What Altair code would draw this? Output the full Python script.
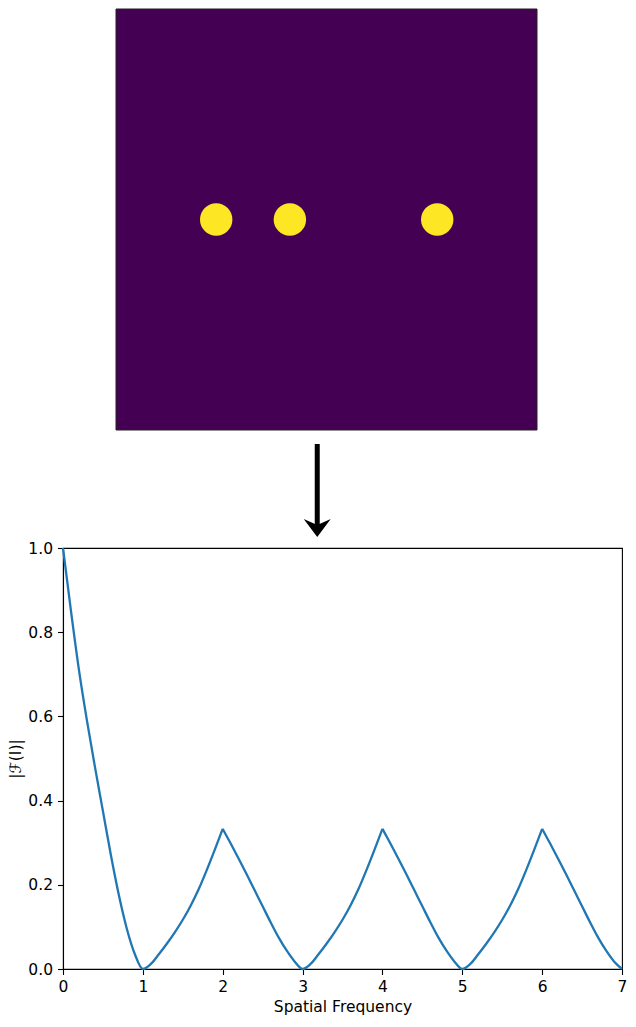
import altair as alt
import pandas as pd

# ---------------- data ----------------
# Top panel: image drawn in image coordinates (fraction of the image side, y down)
image_x0 = [0.0]
image_x1 = [1.0]
image_y0 = [0.0]
image_y1 = [1.0]

spot_x = [0.238, 0.413, 0.763]
spot_y = [0.5, 0.5, 0.5]

# arrow (same image coordinates, below the image)
arrow_x = [0.478]
arrow_y_start = [1.0333]
arrow_y_end = [1.2257]
arrow_head_y = [1.2221]

# Bottom panel: |F(I)| vs spatial frequency
freq = [0.0, 0.1, 0.2, 0.3, 0.4, 0.5, 0.6, 0.7, 0.8, 0.9,
        1.0, 1.1, 1.2, 1.3, 1.4, 1.5, 1.6, 1.7, 1.8, 1.9,
        2.0, 2.1, 2.2, 2.3, 2.4, 2.5, 2.6, 2.7, 2.8, 2.9,
        3.0, 3.1, 3.2, 3.3, 3.4, 3.5, 3.6, 3.7, 3.8, 3.9,
        4.0, 4.1, 4.2, 4.3, 4.4, 4.5, 4.6, 4.7, 4.8, 4.9,
        5.0, 5.1, 5.2, 5.3, 5.4, 5.5, 5.6, 5.7, 5.8, 5.9,
        6.0, 6.1, 6.2, 6.3, 6.4, 6.5, 6.6, 6.7, 6.8, 6.9,
        7.0]
magnitude = [1.000, 0.850, 0.710, 0.590, 0.480, 0.375, 0.270, 0.175, 0.095, 0.035,
             0.000, 0.012, 0.035, 0.060, 0.087, 0.117, 0.151, 0.190, 0.235, 0.283,
             0.333, 0.298, 0.262, 0.225, 0.187, 0.149, 0.111, 0.075, 0.044, 0.018,
             0.000, 0.012, 0.035, 0.060, 0.087, 0.117, 0.151, 0.190, 0.235, 0.283,
             0.333, 0.298, 0.262, 0.225, 0.187, 0.149, 0.111, 0.075, 0.044, 0.018,
             0.000, 0.012, 0.035, 0.060, 0.087, 0.117, 0.151, 0.190, 0.235, 0.283,
             0.333, 0.298, 0.262, 0.225, 0.187, 0.149, 0.111, 0.075, 0.044, 0.018,
             0.000]
# frequencies where the curve has sharp peaks (the line is split there)
peak_freq = [2.0, 4.0, 6.0]

x_ticks = [0, 1, 2, 3, 4, 5, 6, 7]
y_ticks = [0.0, 0.2, 0.4, 0.6, 0.8, 1.0]

FONT = "DejaVu Sans"
FS = 15.5
W = 559
IMG = 421.0
IMG_OFF = 53.0

# ---------------- top panel ----------------
TOP_H = 531
xs_top = alt.Scale(domain=[-IMG_OFF / IMG, (W - IMG_OFF) / IMG], nice=False, zero=False)
ys_top = alt.Scale(domain=[0, TOP_H / IMG], nice=False, zero=False, reverse=True)

img_df = pd.DataFrame({"x0": image_x0, "x1": image_x1, "y0": image_y0, "y1": image_y1})
spot_df = pd.DataFrame({"x": spot_x, "y": spot_y})
arrow_df = pd.DataFrame({"x": arrow_x, "y0": arrow_y_start, "y1": arrow_y_end, "yh": arrow_head_y})

background = alt.Chart(img_df).mark_rect(
    fill="#440154", stroke="#222222", strokeWidth=1
).encode(
    x=alt.X("x0:Q", scale=xs_top, axis=None),
    x2="x1:Q",
    y=alt.Y("y0:Q", scale=ys_top, axis=None),
    y2="y1:Q",
)

spots = alt.Chart(spot_df).mark_circle(
    size=1050, color="#fde725", opacity=1
).encode(
    x=alt.X("x:Q", scale=xs_top, axis=None),
    y=alt.Y("y:Q", scale=ys_top, axis=None),
)

shaft = alt.Chart(arrow_df).mark_rule(color="black", strokeWidth=5).encode(
    x=alt.X("x:Q", scale=xs_top, axis=None),
    y=alt.Y("y0:Q", scale=ys_top, axis=None),
    y2="y1:Q",
)

head = alt.Chart(arrow_df).mark_point(
    shape="M0,1 L-1,-0.333 L0,0.111 L1,-0.333 Z",
    filled=True, fill="black", size=729, opacity=1, strokeWidth=0
).encode(
    x=alt.X("x:Q", scale=xs_top, axis=None),
    y=alt.Y("yh:Q", scale=ys_top, axis=None),
)

top = alt.layer(background, spots, shaft, head).properties(width=W, height=TOP_H)

# ---------------- bottom panel ----------------
rows = []
for f, m in zip(freq, magnitude):
    seg = sum(1 for p in peak_freq if f > p)
    rows.append({"freq": f, "mag": m, "seg": seg})
    if f in peak_freq:
        rows.append({"freq": f, "mag": m, "seg": seg + 1})
line_df = pd.DataFrame(rows)

bottom = alt.Chart(line_df).mark_line(
    color="#1f77b4", strokeWidth=2.3, interpolate="monotone"
).encode(
    x=alt.X("freq:Q", scale=alt.Scale(domain=[0, 7], nice=False, zero=False),
            axis=alt.Axis(values=x_ticks, format="d", title="Spatial Frequency",
                          labelFlush=False, labelPadding=4.5, titlePadding=5)),
    y=alt.Y("mag:Q", scale=alt.Scale(domain=[0, 1], nice=False),
            axis=alt.Axis(values=y_ticks, format=".1f", title="|ℱ(I)|",
                          labelPadding=5, titlePadding=4)),
    detail="seg:N",
    order="freq:Q",
).properties(width=W, height=421, view=alt.ViewBackground(stroke="black", strokeWidth=1.1))

chart = alt.vconcat(top, bottom, spacing=0).properties(padding=0).configure_view(
    stroke=None
).configure_axis(
    labelFont=FONT, titleFont=FONT, labelFontSize=FS, titleFontSize=FS,
    titleFontWeight="normal", labelColor="black", titleColor="black",
    domainColor="black", tickColor="black", domainWidth=1.1, tickWidth=1.1,
    tickSize=5.5, grid=False,
)

chart.save("out.html", embed_options={"renderer": "svg", "actions": False})
